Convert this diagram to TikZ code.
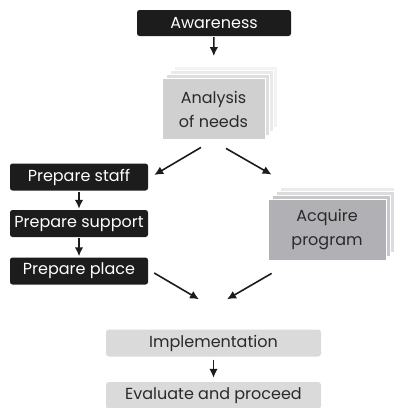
\documentclass[tikz,border=0pt]{standalone}
\usepackage{fontspec}
\setmainfont{Poppins}
\usetikzlibrary{arrows.meta,shadows}

\definecolor{boxblack}{HTML}{1C1C1C}
\definecolor{needsgray}{HTML}{D0D0D0}
\definecolor{progray}{HTML}{B1B1B5}
\definecolor{stepgray}{HTML}{DADADA}
\definecolor{inktext}{HTML}{2A2A2A}

\begin{document}
\begin{tikzpicture}[x=1pt,y=-1pt,
    darkbox/.style={fill=boxblack, text=white, rounded corners=2.5pt, minimum height=26pt, inner sep=0pt, font=\fontsize{16}{18}\selectfont},
    lightbox/.style={fill=stepgray, text=inktext, rounded corners=3pt, minimum width=215pt, minimum height=27pt, inner sep=0pt, font=\fontsize{16}{18}\selectfont},
    sheets/.style={draw=white, line width=0.8pt, text=inktext, align=center, inner sep=0pt, font=\fontsize{16}{24}\selectfont,
        copy shadow={shadow xshift=12pt, shadow yshift=12pt, fill=#1!25, draw=white, line width=0.8pt},
        copy shadow={shadow xshift=8pt, shadow yshift=8pt, fill=#1!45, draw=white, line width=0.8pt},
        copy shadow={shadow xshift=4pt, shadow yshift=4pt, fill=#1!70, draw=white, line width=0.8pt},
        fill=#1},
    flow/.style={-{Latex[length=9pt,width=8.5pt]}, line width=1.6pt, draw=boxblack}]
  \useasboundingbox (0,0) rectangle (394,408);

  \node (aware) [darkbox, minimum width=154pt] at (214,23) {Awareness};
  \node (needs) [sheets=needsgray, minimum width=103pt, minimum height=61pt] at (213.5,109) {Analysis\\of needs};
  \node (staff) [darkbox, minimum width=138pt, minimum height=27pt] at (79,177) {Prepare staff};
  \node (support) [darkbox, minimum width=138pt, minimum height=27pt] at (79,223.5) {Prepare support};
  \node (place) [darkbox, minimum width=138pt, minimum height=27pt] at (79,271) {Prepare place};
  \node (program) [sheets=progray, minimum width=118pt, minimum height=61pt] at (327,229.5) {Acquire\\program};
  \node (impl) [lightbox] at (213.5,343) {Implementation};
  \node (evaluate) [lightbox] at (213.5,395.5) {Evaluate and proceed};

  \draw[flow, shorten <=1pt, shorten >=22pt] (aware) -- (needs);
  \draw[flow] ([xshift=-12.5pt, yshift=-7.5pt]needs.south) -- ([xshift=6pt, yshift=2pt]staff.east);
  \draw[flow] ([xshift=12.5pt, yshift=-8.5pt]needs.south) -- ([xshift=4pt, yshift=24pt]program.north west);
  \draw[flow, shorten <=1pt, shorten >=1pt] (staff) -- (support);
  \draw[flow, shorten <=1pt, shorten >=1pt] (support) -- (place);
  \draw[flow] ([xshift=6pt, yshift=-2pt]place.east) -- ([xshift=-14.5pt, yshift=30pt]impl.north);
  \draw[flow] ([xshift=4pt, yshift=-13pt]program.south west) -- ([xshift=13.5pt, yshift=30pt]impl.north);
  \draw[flow, shorten <=3pt, shorten >=4pt] (impl) -- (evaluate);
\end{tikzpicture}
\end{document}
